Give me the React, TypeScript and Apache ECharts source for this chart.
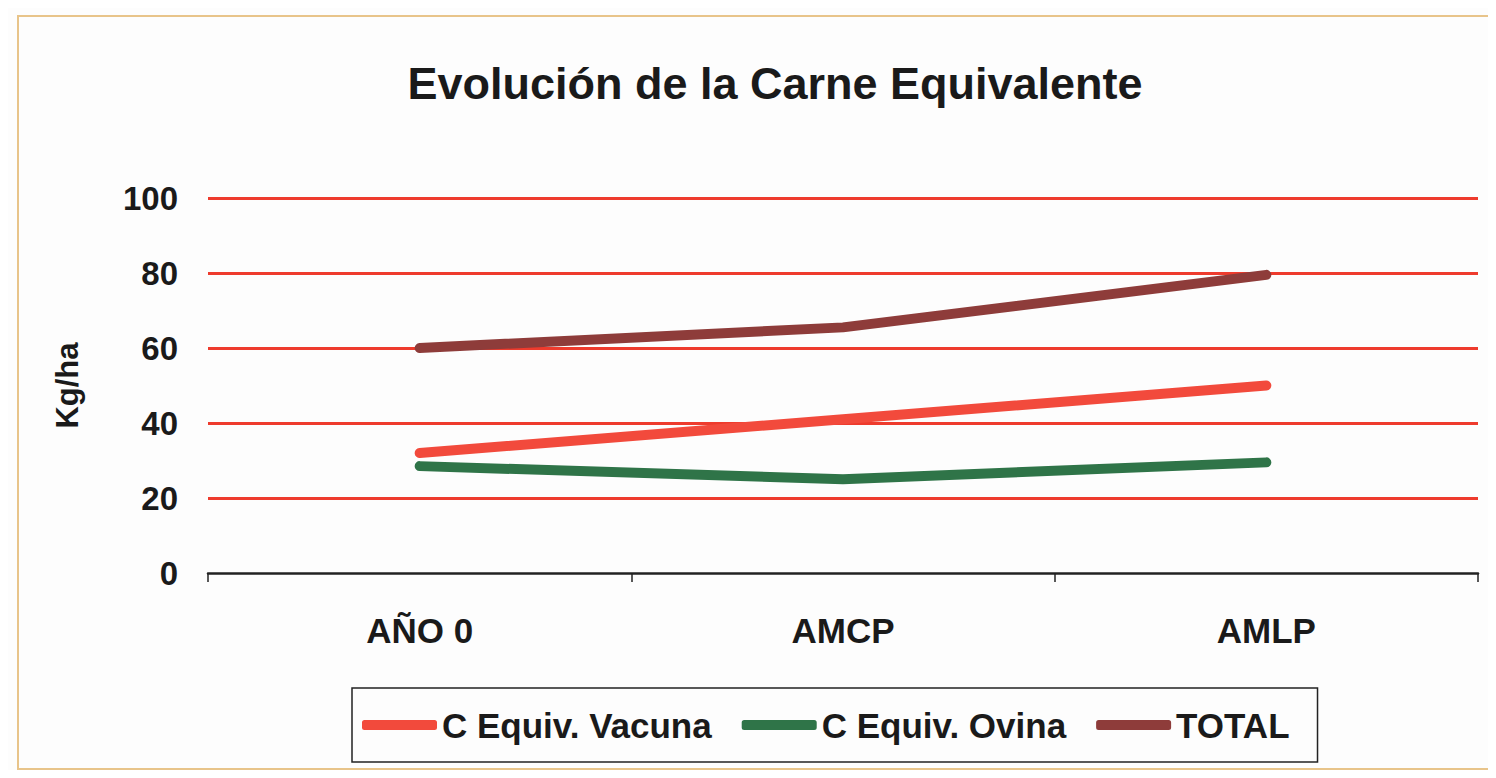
import React, { useEffect, useRef } from "react";
import * as echarts from "echarts";

const categories = ["AÑO 0", "AMCP", "AMLP"];
const vacuna = [32, 41, 50];
const ovina = [28.5, 25, 29.5];
const total = [60, 65.5, 79.5];
const yTicks = { min: 0, max: 100, interval: 20 };

const FONT = "'Liberation Sans', Arial, sans-serif";
const GRID_RED = "#ee3b2d";

export default function App() {
  const ref = useRef<HTMLDivElement>(null);
  useEffect(() => {
    if (!ref.current) return;
    const chart = echarts.init(ref.current, null, { renderer: "svg" });
    const lineSeries = (name: string, data: number[], color: string) => ({
      name,
      type: "line",
      data,
      showSymbol: false,
      symbol: "none",
      lineStyle: { color, width: 10, cap: "round", join: "round" },
      itemStyle: { color },
      z: 5,
    });
    chart.setOption({
      animation: false,
      backgroundColor: "#fdfdfd",
      textStyle: { fontFamily: FONT },
      title: {
        text: "Evolución de la Carne Equivalente",
        left: 770,
        top: 56,
        textAlign: "center",
        textStyle: { fontFamily: FONT, fontSize: 45, fontWeight: "bold", color: "#1a1a1a" },
      },
      graphic: [
        {
          type: "rect",
          shape: { x: 18, y: 16, width: 1520, height: 753 },
          style: { fill: "none", stroke: "#e8c48a", lineWidth: 2 },
          silent: true,
          z: -1,
        },
      ],
      grid: { left: 208, right: 18, top: 198, bottom: 205 },
      legend: {
        left: 352,
        top: 688,
        data: ["C Equiv. Vacuna", "C Equiv. Ovina", "TOTAL"],
        icon: "roundRect",
        itemWidth: 75,
        itemHeight: 10,
        itemGap: 30,
        borderColor: "#222",
        borderWidth: 1.5,
        padding: [16, 28, 16, 10],
        textStyle: {
          fontFamily: FONT,
          fontSize: 35,
          fontWeight: "bold",
          color: "#1a1a1a",
          lineHeight: 42,
        },
      },
      xAxis: {
        type: "category",
        data: categories,
        boundaryGap: true,
        axisLine: { show: true, lineStyle: { color: "#222", width: 2.5 } },
        axisTick: { show: true, length: 9, lineStyle: { color: "#222", width: 1.5 } },
        axisLabel: {
          margin: 40,
          fontFamily: FONT,
          fontSize: 35,
          fontWeight: "bold",
          color: "#1a1a1a",
        },
        z: 4,
      },
      yAxis: {
        type: "value",
        min: yTicks.min,
        max: yTicks.max,
        interval: yTicks.interval,
        name: "Kg/ha",
        nameLocation: "middle",
        nameGap: 125,
        nameRotate: 90,
        nameTextStyle: { fontFamily: FONT, fontSize: 31, fontWeight: "bold", color: "#1a1a1a" },
        axisLine: { show: false },
        axisTick: { show: false },
        axisLabel: {
          margin: 30,
          fontFamily: FONT,
          fontSize: 33,
          fontWeight: "bold",
          color: "#1a1a1a",
        },
        splitLine: {
          show: true,
          lineStyle: {
            color: ["rgba(0,0,0,0)", GRID_RED, GRID_RED, GRID_RED, GRID_RED, GRID_RED],
            width: 3,
          },
        },
      },
      series: [
        lineSeries("C Equiv. Vacuna", vacuna, "#f24a3c"),
        lineSeries("C Equiv. Ovina", ovina, "#2f7448"),
        lineSeries("TOTAL", total, "#8e3c3a"),
      ],
    });
    return () => chart.dispose();
  }, []);
  return <div ref={ref} style={{ width: 1496, height: 778, margin: -8 }} />;
}
